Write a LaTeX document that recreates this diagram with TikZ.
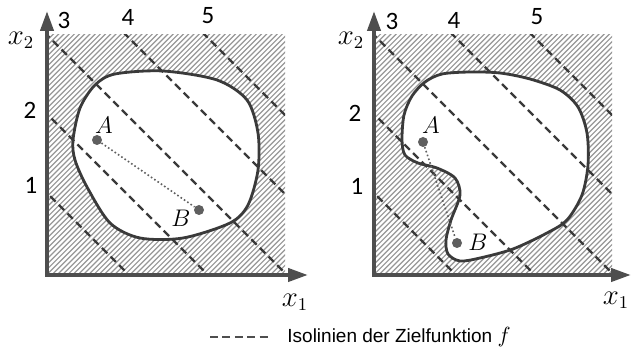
\documentclass[tikz,border=0pt]{standalone}
\usepackage{fontspec}
\setmainfont{Liberation Sans}
\newfontfamily\numfont{Carlito}
\usetikzlibrary{arrows.meta,calc}
\definecolor{axisgray}{RGB}{78,78,78}
\definecolor{edgegray}{RGB}{58,58,58}
\definecolor{hatchgray}{RGB}{150,150,150}
\definecolor{dotgray}{RGB}{95,95,95}

\begin{document}
\begin{tikzpicture}[x=0.5pt, y=-0.5pt,
  axisline/.style={draw=axisgray, line width=2pt, -{Triangle[length=10pt, width=6.5pt]}},
  hatch/.style={hatchgray, line width=0.6pt},
  iso/.style={edgegray, line width=1.1pt, dash pattern=on 3.8pt off 2.3pt},
  region/.style={draw=edgegray, fill=white, line width=1.4pt},
  ptdot/.style={circle, fill=dotgray, inner sep=0pt, minimum size=5pt},
  link/.style={dotgray, line width=0.8pt, dash pattern=on 0.8pt off 1.2pt},
  num/.style={font=\numfont\fontsize{12.5}{14}\selectfont, inner sep=0pt},
  var/.style={font=\fontsize{13.5}{15}\selectfont, inner sep=0pt},
  pnt/.style={font=\fontsize{12}{14}\selectfont, inner sep=0pt}]
  \useasboundingbox (0,0) rectangle (631,351);

  % hatched squares
  \foreach \x in {47,374} {
    \begin{scope}
      \clip (\x,35) rectangle ++(238,240);
      \foreach \i in {-250,-244.8,...,250}
        \draw[hatch] (\x+\i,275) -- ++(250,-250);
    \end{scope}
  }

  % feasible regions
  \draw[region] plot[smooth cycle] coordinates {
    (73,140) (80,108) (95,85) (115,74) (163,71) (217,80) (247,100)
    (258,133) (258,170) (248,205) (230,223) (183,238) (140,238)
    (110,223) (87,187) (75,160)};
  \draw[region] plot[smooth cycle] coordinates {
    (402,140) (404,115) (412,96) (425,82) (442,74) (470,72) (500,73)
    (530,79) (560,90) (578,107) (587,133) (588,165) (582,195) (567,220)
    (547,233) (513,249) (480,258) (460,261) (448,254) (446,240)
    (451,220) (460,195) (455,178) (437,168) (418,163) (405,155)};

  % isolines
  \foreach \x in {47,374} {
    \begin{scope}
      \clip (\x,35) rectangle ++(238,240);
      \foreach \k in {-2,...,2}
        \draw[iso] (\x+\k*79-20,15) -- ++(300,300);
    \end{scope}
  }

  % axes
  \coordinate (o1) at (47,277);
  \coordinate (h1) at (45,275);
  \coordinate (y1) at (47,11);
  \coordinate (x1) at (308,275);
  \coordinate (o2) at (374,277);
  \coordinate (h2) at (372,275);
  \coordinate (y2) at (374,11);
  \coordinate (x2) at (631,275);
  \draw[axisline] (o1) -- (y1);
  \draw[axisline] (h1) -- (x1);
  \draw[axisline] (o2) -- (y2);
  \draw[axisline] (h2) -- (x2);

  \node[var] (lx2a) at (21,40) {$x_2$};
  \node[var] (lx1a) at (295,302) {$x_1$};
  \node[var] (lx2b) at (351,40) {$x_2$};
  \node[var] (lx1b) at (616,300) {$x_1$};

  % isoline values
  \node[num] (n3a) at (64,20) {3};
  \node[num] (n4a) at (128,17) {4};
  \node[num] (n5a) at (208,16) {5};
  \node[num] (n2a) at (30,110) {2};
  \node[num] (n1a) at (31,185) {1};
  \node[num] (n3b) at (392,21) {3};
  \node[num] (n4b) at (454,20) {4};
  \node[num] (n5b) at (537,17) {5};
  \node[num] (n2b) at (355,113) {2};
  \node[num] (n1b) at (357,186) {1};

  % points A and B
  \node[ptdot] (A1) at (97,140) {};
  \node[ptdot] (B1) at (199,210) {};
  \node[ptdot] (A2) at (423,142) {};
  \node[ptdot] (B2) at (457,243) {};
  \draw[link] (A1) -- (B1);
  \draw[link] (A2) -- (B2);
  \node[pnt] (lA1) at (104,125) {$A$};
  \node[pnt] (lB1) at (181,218) {$B$};
  \node[pnt] (lA2) at (431,125) {$A$};
  \node[pnt] (lB2) at (478,242) {$B$};

  % legend
  \coordinate (legdash) at (210,337);
  \node[anchor=west, inner sep=0pt, font=\fontsize{9.5}{11}\selectfont]
    (legend) at (287,337) {Isolinien der Zielfunktion {\fontsize{11}{12}\selectfont$f$}};
  \draw[iso, axisgray, dash pattern=on 4pt off 2.2pt] (legdash) -- ++(58,0);
\end{tikzpicture}
\end{document}
